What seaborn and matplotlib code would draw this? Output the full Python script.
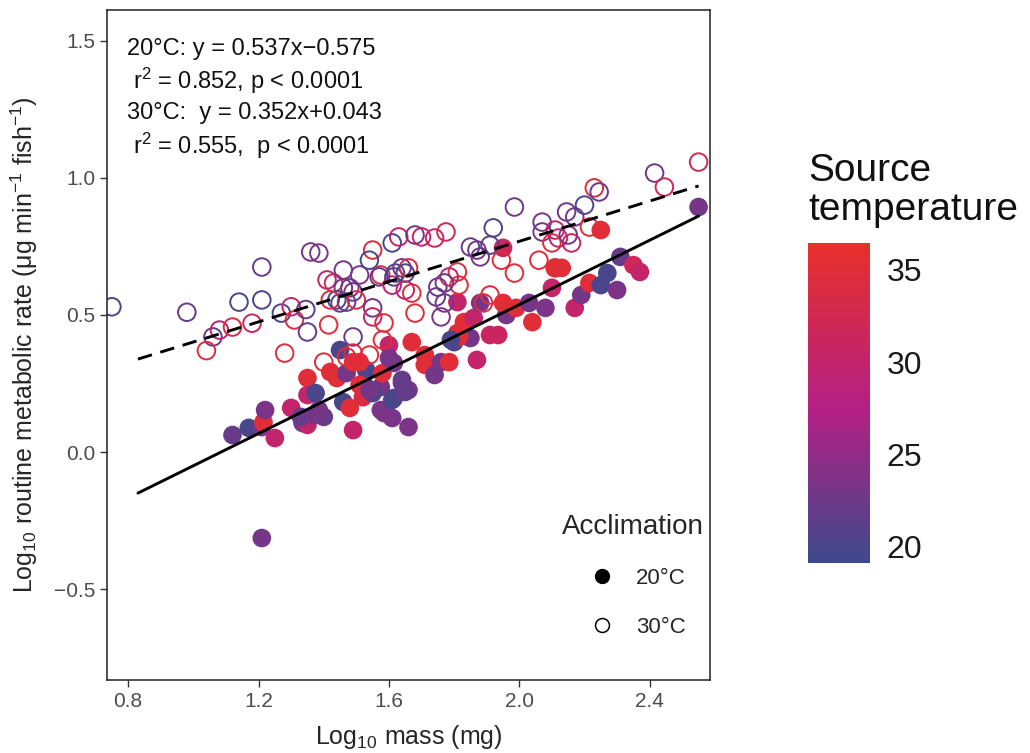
import numpy as np
import matplotlib
matplotlib.use("Agg")
import matplotlib.pyplot as plt
import pandas as pd
import seaborn as sns
from matplotlib.colors import LinearSegmentedColormap, Normalize
from matplotlib.lines import Line2D

# ================= DATA =================
# acclimated at 20 C (filled circles)
fill_mass = [1.12, 1.17, 1.21, 1.215, 1.22, 1.25, 1.30, 1.35, 1.35, 1.375,
             1.335, 1.35, 1.40, 1.385, 1.49, 1.42, 1.44, 1.45, 1.47, 1.46,
             1.48, 1.49, 1.52, 1.53, 1.53, 1.575, 1.58, 1.575, 1.61, 1.60,
             1.60, 1.615, 1.55, 1.51, 1.33, 1.37, 1.51, 1.54, 1.64, 1.66,
             1.585, 1.66, 1.61, 1.65, 1.64, 1.615, 1.67, 1.71, 1.71, 1.74,
             1.76, 1.785, 1.80, 1.81, 1.83, 1.86, 1.85, 1.87, 1.81, 1.88,
             1.91, 1.935, 1.96, 1.95, 1.99, 2.03, 2.04, 2.08, 2.10, 2.17,
             2.19, 2.215, 2.25, 2.27, 2.30, 2.31, 2.35, 2.37, 1.95, 2.13,
             2.11, 2.25, 2.55, 1.21, 1.815, 1.79]
fill_rate = [0.062, 0.088, 0.091, 0.109, 0.153, 0.051, 0.161, 0.27, 0.208, 0.215,
             0.106, 0.099, 0.128, 0.153, 0.08, 0.292, 0.27, 0.372, 0.288, 0.182,
             0.161, 0.328, 0.20, 0.299, 0.237, 0.237, 0.288, 0.153, 0.124, 0.39,
             0.343, 0.197, 0.215, 0.245, 0.128, 0.135, 0.328, 0.226, 0.252, 0.226,
             0.142, 0.091, 0.19, 0.219, 0.263, 0.325, 0.401, 0.354, 0.318, 0.281,
             0.328, 0.328, 0.401, 0.434, 0.474, 0.489, 0.416, 0.336, 0.547, 0.544,
             0.427, 0.427, 0.50, 0.544, 0.526, 0.544, 0.474, 0.526, 0.599, 0.526,
             0.573, 0.617, 0.609, 0.653, 0.591, 0.712, 0.682, 0.657, 0.745, 0.672,
             0.672, 0.81, 0.894, -0.314, 0.42, 0.409]
fill_temp = [22, 20, 23, 35, 23.5, 30, 30, 35, 30, 20,
             22, 30, 22, 23, 30, 35, 35, 20, 23, 20,
             35, 35, 34, 20, 22, 23, 35, 23.5, 23.5, 30,
             23.5, 20, 20, 35, 22, 23, 35, 23, 23, 23.5,
             23.5, 23.5, 20, 22, 22, 23, 35, 35, 35, 23,
             23, 35, 20, 35, 35, 30, 23, 30, 30, 23,
             31, 31, 23, 35, 35, 23, 35, 23.5, 30, 30,
             23, 35, 20, 20, 23.5, 22, 32, 30, 31, 35,
             35, 35, 23, 23, 35, 20]

# acclimated at 30 C (open circles)
open_mass = [0.75, 0.98, 1.06, 1.08, 1.04, 1.12, 1.18, 1.14, 1.21, 1.21,
             1.27, 1.30, 1.31, 1.345, 1.35, 1.28, 1.36, 1.385, 1.415, 1.41,
             1.43, 1.46, 1.46, 1.48, 1.49, 1.44, 1.45, 1.42, 1.47, 1.50,
             1.51, 1.55, 1.54, 1.575, 1.57, 1.61, 1.615, 1.61, 1.55, 1.55,
             1.585, 1.49, 1.58, 1.54, 1.40, 1.47, 1.49, 1.63, 1.68, 1.70,
             1.74, 1.775, 1.92, 1.985, 1.85, 1.87, 1.88, 1.91, 1.945, 1.985,
             2.06, 2.07, 2.07, 2.11, 2.10, 2.12, 2.16, 2.145, 2.17, 2.20,
             2.15, 2.215, 2.23, 2.245, 2.11, 2.415, 2.445, 2.55, 1.62, 1.64,
             1.66, 1.65, 1.81, 1.815, 1.785, 1.75, 1.77, 1.67, 1.65, 1.745,
             1.91, 1.68, 1.76, 1.77, 1.89]
open_rate = [0.53, 0.51, 0.42, 0.445, 0.37, 0.456, 0.47, 0.547, 0.555, 0.675,
             0.507, 0.53, 0.482, 0.52, 0.438, 0.361, 0.73, 0.726, 0.464, 0.628,
             0.617, 0.664, 0.599, 0.599, 0.584, 0.555, 0.544, 0.555, 0.547, 0.555,
             0.646, 0.737, 0.70, 0.646, 0.639, 0.763, 0.639, 0.609, 0.526, 0.493,
             0.471, 0.42, 0.409, 0.354, 0.328, 0.347, 0.361, 0.785, 0.792, 0.785,
             0.781, 0.803, 0.818, 0.894, 0.748, 0.737, 0.712, 0.755, 0.70, 0.653,
             0.70, 0.839, 0.803, 0.81, 0.763, 0.781, 0.763, 0.876, 0.858, 0.901,
             0.792, 0.821, 0.964, 0.949, 0.672, 1.018, 0.967, 1.058, 0.653, 0.672,
             0.672, 0.653, 0.657, 0.609, 0.639, 0.602, 0.617, 0.58, 0.591, 0.566,
             0.573, 0.507, 0.493, 0.544, 0.544]
open_temp = [20, 22, 22, 29, 35, 34, 31, 20, 20, 22,
             20, 30, 34, 22, 22, 35, 23, 23.5, 35, 30,
             33, 23, 22, 23.5, 23, 20, 21, 34, 22, 34,
             23, 35, 20, 34, 22, 20, 21, 29, 23, 30,
             35, 22, 35, 35, 35, 35, 34, 30, 23, 30,
             31, 32, 20, 23, 22, 23, 23, 21, 35, 35,
             35, 23, 23, 30, 34, 30, 31, 23, 23, 20,
             23.5, 35, 35, 23, 35, 23, 32, 32, 20, 23,
             34, 20, 35, 35, 30, 23, 23, 35, 30, 22,
             35, 35, 23, 23, 35]

# fitted lines as drawn
line_mass = [0.83, 2.55]
line20_rate = [-0.150, 0.861]
line30_rate = [0.339, 0.971]

temp_ticks = [20, 25, 30, 35]
x_ticks = [0.8, 1.2, 1.6, 2.0, 2.4]
y_ticks = [-0.5, 0.0, 0.5, 1.0, 1.5]

fill_df = pd.DataFrame({'mass': fill_mass, 'rate': fill_rate, 'source': fill_temp})
open_df = pd.DataFrame({'mass': open_mass, 'rate': open_rate, 'source': open_temp})

# ================= STYLE =================
sns.set_style('white')
plt.rcParams['font.family'] = ['Liberation Sans', 'DejaVu Sans']
plt.rcParams['mathtext.fontset'] = 'custom'
plt.rcParams['mathtext.rm'] = 'Liberation Sans'
plt.rcParams['mathtext.it'] = 'Liberation Sans:italic'
plt.rcParams['mathtext.bf'] = 'Liberation Sans:bold'

cmap = LinearSegmentedColormap.from_list(
    'src', [(0.0, '#3E4A8C'), (0.48, '#B41F84'), (1.0, '#E8302A')])
norm = Normalize(vmin=19.13, vmax=36.46)

fig = plt.figure(figsize=(10.3, 7.53), dpi=100)
ax = fig.add_axes([107/1030, 73/753, 603/1030, 670/753])

# filled points (20 C)
sns.scatterplot(data=fill_df, x='mass', y='rate', hue='source', palette=cmap,
                hue_norm=norm, s=180, linewidth=0, legend=False, ax=ax)

# open points (30 C)
sns.scatterplot(data=open_df, x='mass', y='rate', hue='source', palette=cmap,
                hue_norm=norm, s=160, linewidth=0, legend=False, ax=ax)
pc = ax.collections[-1]
fc = pc.get_facecolors()
pc.set_facecolors('none')
pc.set_edgecolors(fc)
pc.set_linewidth(1.4)

sns.lineplot(x=line_mass, y=line20_rate, color='black', lw=2.1, ax=ax)
sns.lineplot(x=line_mass, y=line30_rate, color='black', lw=2.1, ax=ax,
             linestyle='--')
ax.lines[-1].set_dashes((5, 3))

ax.set_xlim(0.735, 2.585)
ax.set_ylim(-0.832, 1.613)
ax.set_xticks(x_ticks)
ax.set_xticklabels([f'{v:.1f}' for v in x_ticks])
ax.set_yticks(y_ticks)
ax.set_yticklabels([f'{v:.1f}'.replace('-', '\u2212') for v in y_ticks])
ax.tick_params(direction='out', length=5, width=1, color='#333333',
               labelcolor='#4D4D4D', labelsize=15, bottom=True, left=True)
for sp in ax.spines.values():
    sp.set_color('#222222')
    sp.set_linewidth(1.1)

ax.set_xlabel(r'Log$_{10}$ mass (mg)', fontsize=18, labelpad=9)
ax.set_ylabel(r'Log$_{10}$ routine metabolic rate (μg min$^{-1}$ fish$^{-1}$)',
              fontsize=18, labelpad=10)

# equations
eq_kw = dict(transform=ax.transAxes, fontsize=17, va='center', ha='left', color='#111111')
ax.text(0.033, 0.942, '20°C: y = 0.537x\u22120.575', **eq_kw)
ax.text(0.043, 0.894, r'r$^{2}$ = 0.852, p < 0.0001', **eq_kw)
ax.text(0.033, 0.846, '30°C:  y = 0.352x+0.043', **eq_kw)
ax.text(0.043, 0.797, r'r$^{2}$ = 0.555,  p < 0.0001', **eq_kw)

# acclimation legend
handles = [Line2D([], [], marker='o', ls='', color='black', markersize=10),
           Line2D([], [], marker='o', ls='', markerfacecolor='none',
                  markeredgecolor='black', markeredgewidth=1.1, markersize=10)]
leg = ax.legend(handles, ['20°C', '30°C'], title='Acclimation', loc='center',
                bbox_to_anchor=(0.872, 0.155), frameon=False, fontsize=16,
                title_fontsize=20, labelspacing=1.25, handletextpad=0.5,
                borderpad=0)
leg._legend_box.sep = 20

# colour bar for source temperature
cax = fig.add_axes([808/1030, 190/753, 62/1030, 320/753])
sm = matplotlib.cm.ScalarMappable(norm=norm, cmap=cmap)
cb = fig.colorbar(sm, cax=cax)
cb.outline.set_visible(False)
cb.set_ticks(temp_ticks)
cax.tick_params(direction='in', length=7, width=1, color='white',
                labelsize=23, labelcolor='#1A1A1A', pad=12)
fig.text(808/1030, 1 - 228/753, 'Source\ntemperature', fontsize=28,
         ha='left', va='bottom', color='#111111', linespacing=1.1)

fig.savefig('out.png', dpi=100)
